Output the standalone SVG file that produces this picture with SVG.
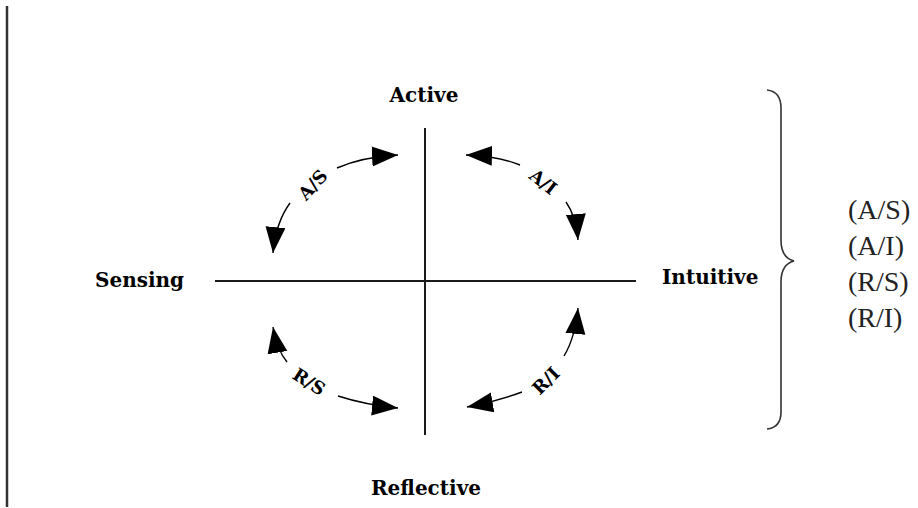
<svg xmlns="http://www.w3.org/2000/svg" width="918" height="508" viewBox="0 0 918 508">
<style>
  .axis { stroke: #1a1a1a; stroke-width: 2; fill: none; }
  .frame { stroke: #333; stroke-width: 2.5; fill: none; }
  .arc { stroke: #000; stroke-width: 1.4; fill: none; }
  .pole { font-family: "DejaVu Serif", "Liberation Serif", serif; font-weight: bold; font-size: 20px; fill: #000; }
  .tag { font-family: "DejaVu Serif", "Liberation Serif", serif; font-weight: bold; font-size: 18px; fill: #000; text-anchor: middle; }
  .list { font-family: "Liberation Serif", "Times New Roman", serif; font-size: 28px; fill: #222; }
  .brace { stroke: #333; stroke-width: 1.6; fill: none; }
</style>
<defs>
  <marker id="head" markerUnits="userSpaceOnUse" markerWidth="28" markerHeight="22" refX="26" refY="10" orient="auto">
    <path d="M0,0 L26,10 L0,20 z" fill="#000"/>
  </marker>
</defs>
<rect width="918" height="508" fill="#fff"/>
<line class="frame" x1="7" y1="6" x2="7" y2="507"/>

<g id="axes">
  <line class="axis" x1="425" y1="128" x2="425" y2="435"/>
  <line class="axis" x1="215" y1="281" x2="636" y2="281"/>
</g>

<g id="active"><text class="pole" x="424" y="102" text-anchor="middle">Active</text></g>
<g id="reflective"><text class="pole" x="426" y="495" text-anchor="middle">Reflective</text></g>
<g id="sensing"><text class="pole" x="95" y="287">Sensing</text></g>
<g id="intuitive"><text class="pole" x="662" y="284">Intuitive</text></g>

<g id="connectors">
  <path class="arc" d="M290,203 Q276,222 273,253" marker-end="url(#head)"/>
  <path class="arc" d="M337,168 Q362,157 398,155" marker-end="url(#head)"/>
  <path class="arc" d="M520,165 Q498,156 466,155" marker-end="url(#head)"/>
  <path class="arc" d="M566,202 Q576,216 578,240" marker-end="url(#head)"/>
  <path class="arc" d="M287,362 Q277,350 273,327" marker-end="url(#head)"/>
  <path class="arc" d="M338,396 Q366,405 398,408" marker-end="url(#head)"/>
  <path class="arc" d="M564,356 Q575,338 578,308" marker-end="url(#head)"/>
  <path class="arc" d="M522,392 Q495,402 467,407" marker-end="url(#head)"/>
</g>

<g id="label-as"><text class="tag" transform="translate(313,185) rotate(-48)" y="6">A/S</text></g>
<g id="label-ai"><text class="tag" transform="translate(543,182) rotate(38)" y="6">A/I</text></g>
<g id="label-rs"><text class="tag" transform="translate(309,382) rotate(33)" y="6">R/S</text></g>
<g id="label-ri"><text class="tag" transform="translate(546,381) rotate(-45)" y="6">R/I</text></g>

<g id="brace">
  <path class="brace" d="M767,90 C776,91 781,97 781,108 L781,240 C781,252 786,259 794,261 C786,263 781,270 781,282 L781,412 C781,423 776,428 767,429"/>
</g>

<g id="legend">
  <text class="list" x="848" y="219">(A/S)</text>
  <text class="list" x="848" y="255">(A/I)</text>
  <text class="list" x="848" y="291">(R/S)</text>
  <text class="list" x="848" y="327">(R/I)</text>
</g>
</svg>
